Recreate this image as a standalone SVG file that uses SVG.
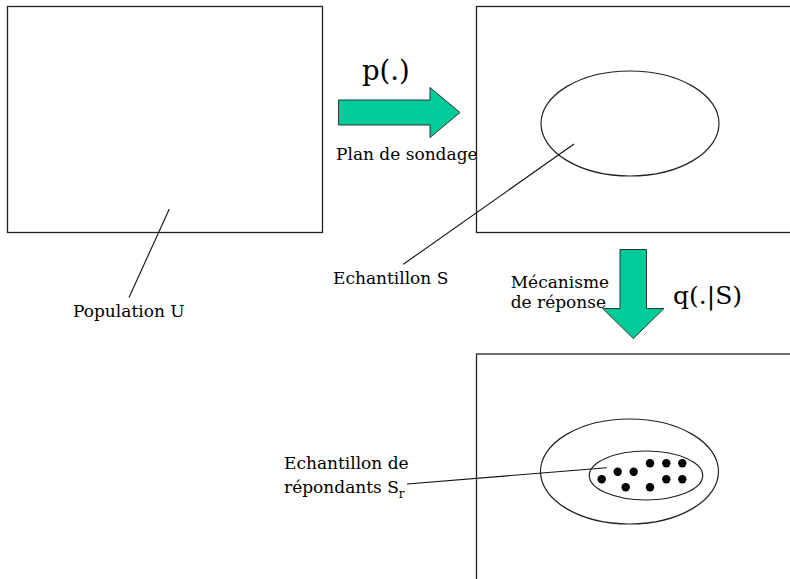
<svg xmlns="http://www.w3.org/2000/svg" width="790" height="579" viewBox="0 0 790 579">
<style>
.box{fill:none;stroke:#222;stroke-width:1.3}
.ell{fill:none;stroke:#222;stroke-width:1.2}
.lead{stroke:#111;stroke-width:1.1;fill:none}
.arr{fill:#00CC99;stroke:#333;stroke-width:1}
.t{font-family:'DejaVu Serif','Liberation Serif',serif;font-size:17px;fill:#000}
.big{font-family:'DejaVu Serif','Liberation Serif',serif;fill:#000}
.dot{fill:#000}
</style>
<rect width="790" height="579" fill="#fff"/>
<g id="population">
<rect class="box" x="7.5" y="6.5" width="315" height="226"/>
<text class="t" x="73" y="317">Population U</text>
</g>
<g id="sample">
<rect class="box" x="476.5" y="6.5" width="330" height="226"/>
<ellipse class="ell" cx="630" cy="123.5" rx="89" ry="52.5"/>
<text class="t" x="333" y="284">Echantillon S</text>
</g>
<g id="respondents">
<rect class="box" x="476.5" y="354" width="330" height="240"/>
<ellipse class="ell" cx="629.5" cy="471.5" rx="89" ry="52.5"/>
<ellipse class="ell" cx="646" cy="475.5" rx="56.7" ry="24.5"/>
<circle class="dot" cx="601.7" cy="479.3" r="4.2"/>
<circle class="dot" cx="617.7" cy="471.7" r="4.2"/>
<circle class="dot" cx="633.7" cy="471.7" r="4.2"/>
<circle class="dot" cx="650" cy="463.3" r="4.2"/>
<circle class="dot" cx="666.3" cy="463.3" r="4.2"/>
<circle class="dot" cx="682.3" cy="463.3" r="4.2"/>
<circle class="dot" cx="625.7" cy="487.3" r="4.2"/>
<circle class="dot" cx="650" cy="487.3" r="4.2"/>
<circle class="dot" cx="666.3" cy="479.3" r="4.2"/>
<circle class="dot" cx="682.3" cy="479.3" r="4.2"/>
<text class="t" x="284" y="469">Echantillon de</text>
<text class="t" x="284" y="493">répondants S<tspan font-size="12" dy="5">r</tspan></text>
</g>
<g id="connectors">
<line class="lead" x1="169.3" y1="209" x2="129" y2="297.5"/>
<line class="lead" x1="574" y1="144" x2="403.3" y2="264.3"/>
<line class="lead" x1="407" y1="484" x2="606.7" y2="467.7"/>
<polygon class="arr" points="338.5,100 430,100 430,87.5 460,112.5 430,137.5 430,125 338.5,125"/>
<polygon class="arr" points="620,249.5 646.5,249.5 646.5,308.5 664,308.5 633.3,338.5 602.7,308.5 620,308.5"/>
<text class="big" x="362" y="80" font-size="27.5">p(.)</text>
<text class="t" x="336" y="160">Plan de sondage</text>
<text class="t" x="510.7" y="288">Mécanisme</text>
<text class="t" x="510.7" y="308">de réponse</text>
<text class="big" x="673" y="304" font-size="25">q(.|S)</text>
</g>
</svg>
